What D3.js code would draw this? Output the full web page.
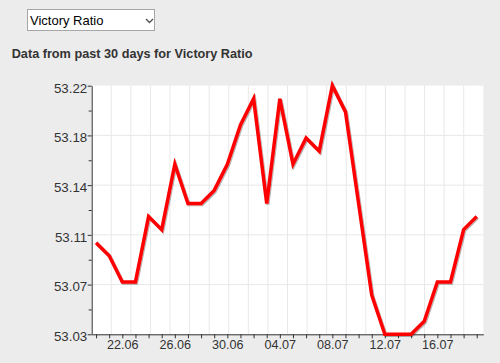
<!DOCTYPE html>
<html>
<head>
<meta charset="utf-8">
<script src="https://cdn.jsdelivr.net/npm/d3@7"></script>
<style>
  body { margin: 0; background: #ececec; font-family: "Liberation Sans", Arial, sans-serif; }
  #wrap { position: relative; width: 500px; height: 363px; overflow: hidden; }
  #metric {
    position: absolute; left: 27px; top: 9px; width: 128px; height: 22px;
    font: 13px "Liberation Sans", Arial, sans-serif; color: #000;
    background-color: #fff; border: 1px solid #a6a6a6; border-radius: 0; padding: 0 0 0 2px;
    -webkit-appearance: none; appearance: none;
    background-image: url("data:image/svg+xml;utf8,<svg xmlns='http://www.w3.org/2000/svg' width='9' height='6'><path d='M1 1 L4.5 4.5 L8 1' fill='none' stroke='%23555' stroke-width='1.4'/></svg>");
    background-repeat: no-repeat; background-position: 117px 8px;
  }
  #chart { position: absolute; left: 0; top: 0; }
</style>
</head>
<body>
<div id="wrap">
  <div id="chart"></div>
  <select id="metric"><option>Victory Ratio</option></select>
</div>
<script>
// days shown (dd.mm) and the value for each day
const days = ["20.06","21.06","22.06","23.06","24.06","25.06","26.06","27.06","28.06","29.06",
              "30.06","01.07","02.07","03.07","04.07","05.07","06.07","07.07","08.07","09.07",
              "10.07","11.07","12.07","13.07","14.07","15.07","16.07","17.07","18.07","19.07"];
const values = [53.10, 53.09, 53.07, 53.07, 53.12, 53.11, 53.16, 53.13, 53.13, 53.14,
                53.16, 53.19, 53.21, 53.13, 53.21, 53.16, 53.18, 53.17, 53.22, 53.20,
                53.13, 53.06, 53.03, 53.03, 53.03, 53.04, 53.07, 53.07, 53.11, 53.12];
const xLabels = ["22.06","26.06","30.06","04.07","08.07","12.07","16.07"];
const yDomain = [53.03, 53.22];
const yIntervals = 5;
const title = "Data from past 30 days for Victory Ratio";

const W = 500, H = 363;
const margin = {top: 85.7, right: 16.7, bottom: 28.7, left: 91.7},
    width = W - margin.left - margin.right,
    height = H - margin.top - margin.bottom;

const parse = d3.timeParse("%d.%m");
const dates = days.map(parse);
const HOUR = 3600 * 1000;

const svg = d3.select("#chart").append("svg")
    .attr("width", W)
    .attr("height", H);

// title
svg.append("text")
    .attr("x", 11.7)
    .attr("y", 58.3)
    .style("font-size", "12.7px")
    .style("font-weight", "bold")
    .style("fill", "#333")
    .text(title);

const defs = svg.append("defs");
defs.append("filter")
    .attr("id", "shadow")
    .attr("x", "-5%").attr("y", "-5%").attr("width", "110%").attr("height", "110%")
  .append("feDropShadow")
    .attr("dx", 1).attr("dy", 1)
    .attr("stdDeviation", 0.7)
    .attr("flood-color", "#000")
    .attr("flood-opacity", 0.3);

const g = svg.append("g")
    .attr("transform", "translate(" + margin.left + "," + margin.top + ")");

const x = d3.scaleTime()
    .domain([new Date(+dates[0] - 8 * HOUR), new Date(+dates[dates.length - 1] + 12 * HOUR)])
    .range([0, width]);

const y = d3.scaleLinear()
    .domain(yDomain)
    .range([height, 0]);

const yStep = (yDomain[1] - yDomain[0]) / yIntervals;
const yMajor = d3.range(yIntervals + 1).map(i => yDomain[0] + i * yStep);
const yMinor = d3.range(yIntervals).map(i => yDomain[0] + (i + 0.5) * yStep);

// plot background
g.append("rect")
    .attr("width", width)
    .attr("height", height)
    .attr("fill", "#fff");

// vertical grid: 20 even columns
g.selectAll("line.vGrid").data(d3.range(1, 20))
    .enter().append("line")
    .attr("class", "vGrid")
    .attr("x1", d => d * width / 20)
    .attr("x2", d => d * width / 20)
    .attr("y1", 0)
    .attr("y2", height)
    .attr("stroke", "#e8e8e8")
    .attr("stroke-width", 1);

// horizontal grid at the labelled values
g.selectAll("line.hGrid").data(yMajor.slice(1, -1))
    .enter().append("line")
    .attr("class", "hGrid")
    .attr("x1", 0)
    .attr("x2", width)
    .attr("y1", d => y(d))
    .attr("y2", d => y(d))
    .attr("stroke", "#e8e8e8")
    .attr("stroke-width", 1);

// y axis
const yAxis = g.append("g")
    .attr("class", "y axis")
    .call(d3.axisLeft(y).tickValues(yMajor).tickFormat(d3.format(".2f")).tickSize(4).tickSizeOuter(0));
g.append("g")
    .call(d3.axisLeft(y).tickValues(yMinor).tickFormat("").tickSize(3).tickSizeOuter(0))
    .select(".domain").remove();
yAxis.selectAll("text")
    .attr("x", -4.5)
    .attr("dy", "0.48em")
    .style("font-size", "13.3px");

// x axis: a tick each day, labels every fourth day
const labelSet = new Set(xLabels);
const fmt = d3.timeFormat("%d.%m");
const xAxis = g.append("g")
    .attr("class", "x axis")
    .attr("transform", "translate(0," + height + ")")
    .call(d3.axisBottom(x).tickValues(dates).tickSize(4).tickSizeOuter(0)
        .tickFormat(d => labelSet.has(fmt(d)) ? fmt(d) : ""));
xAxis.selectAll("text")
    .attr("y", 5.6)
    .attr("dy", "0.71em")
    .style("font-size", "12.6px");

svg.selectAll(".axis, g g").style("font-family", "'Liberation Sans', Arial, sans-serif");
svg.selectAll(".domain, .tick line").attr("stroke", "#333");
svg.selectAll(".tick text").attr("fill", "#333");

// the series
const line = d3.line()
    .x((d, i) => x(dates[i]))
    .y(d => y(d));

g.append("path")
    .datum(values)
    .attr("fill", "none")
    .attr("stroke", "#ff0000")
    .attr("stroke-width", 3.5)
    .attr("filter", "url(#shadow)")
    .attr("d", line);
</script>
</body>
</html>
